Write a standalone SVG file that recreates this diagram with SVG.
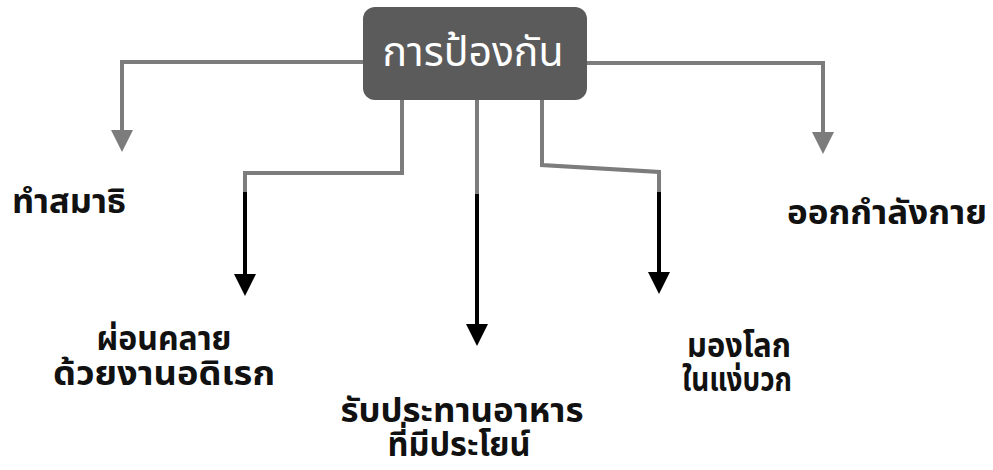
<svg xmlns="http://www.w3.org/2000/svg" width="993" height="470" viewBox="0 0 993 470">
<style>
.lbl{font-family:"Noto Sans Thai","Noto Sans","DejaVu Sans",sans-serif;font-weight:bold;font-size:33px;fill:#111;text-anchor:middle}
.title{font-family:"Noto Sans Thai","Noto Sans","DejaVu Sans",sans-serif;font-size:41px;fill:#fff;text-anchor:middle}
.g{fill:none;stroke:#7c7c7c;stroke-width:4}
.k{fill:none;stroke:#000;stroke-width:4}
</style>
<defs>
<marker id="ag" markerUnits="userSpaceOnUse" markerWidth="22" markerHeight="22" refX="0" refY="11" orient="auto"><path d="M0,0 L22,11 L0,22 z" fill="#7c7c7c"/></marker>
<marker id="ak" markerUnits="userSpaceOnUse" markerWidth="22" markerHeight="22" refX="0" refY="11" orient="auto"><path d="M0,0 L22,11 L0,22 z" fill="#000"/></marker>
</defs>
<rect width="993" height="470" fill="#fff"/>
<g id="connectors">
<path class="g" d="M363,62 H122 V130" marker-end="url(#ag)"/>
<path class="g" d="M587,63 H823 V132" marker-end="url(#ag)"/>
<path class="g" d="M402,100 V173 H245 V194"/>
<path class="k" d="M245,192 V274" marker-end="url(#ak)"/>
<path class="g" d="M477,100 V196"/>
<path class="k" d="M477,194 V324" marker-end="url(#ak)"/>
<path class="g" d="M542,100 V165 L659,172 V194"/>
<path class="k" d="M659,192 V272" marker-end="url(#ak)"/>
</g>
<g id="center">
<rect x="363" y="7" width="224" height="93" rx="12" fill="#5b5b5b"/>
<text class="title" x="473" y="66" textLength="181" lengthAdjust="spacingAndGlyphs">การป้องกัน</text>
</g>
<g id="n1"><text class="lbl" x="69" y="213" textLength="114" lengthAdjust="spacingAndGlyphs">ทำสมาธิ</text></g>
<g id="n2"><text class="lbl" x="164" y="350" textLength="135" lengthAdjust="spacingAndGlyphs">ผ่อนคลาย</text><text class="lbl" x="164" y="385" textLength="222" lengthAdjust="spacingAndGlyphs">ด้วยงานอดิเรก</text></g>
<g id="n3"><text class="lbl" x="462" y="422" textLength="243" lengthAdjust="spacingAndGlyphs">รับประทานอาหาร</text><text class="lbl" x="459" y="456" textLength="143" lengthAdjust="spacingAndGlyphs">ที่มีประโยน์</text></g>
<g id="n4"><text class="lbl" x="739" y="357" textLength="104" lengthAdjust="spacingAndGlyphs">มองโลก</text><text class="lbl" x="737" y="391" textLength="110" lengthAdjust="spacingAndGlyphs">ในแง่บวก</text></g>
<g id="n5"><text class="lbl" x="887" y="224" textLength="200" lengthAdjust="spacingAndGlyphs">ออกกำลังกาย</text></g>
</svg>
